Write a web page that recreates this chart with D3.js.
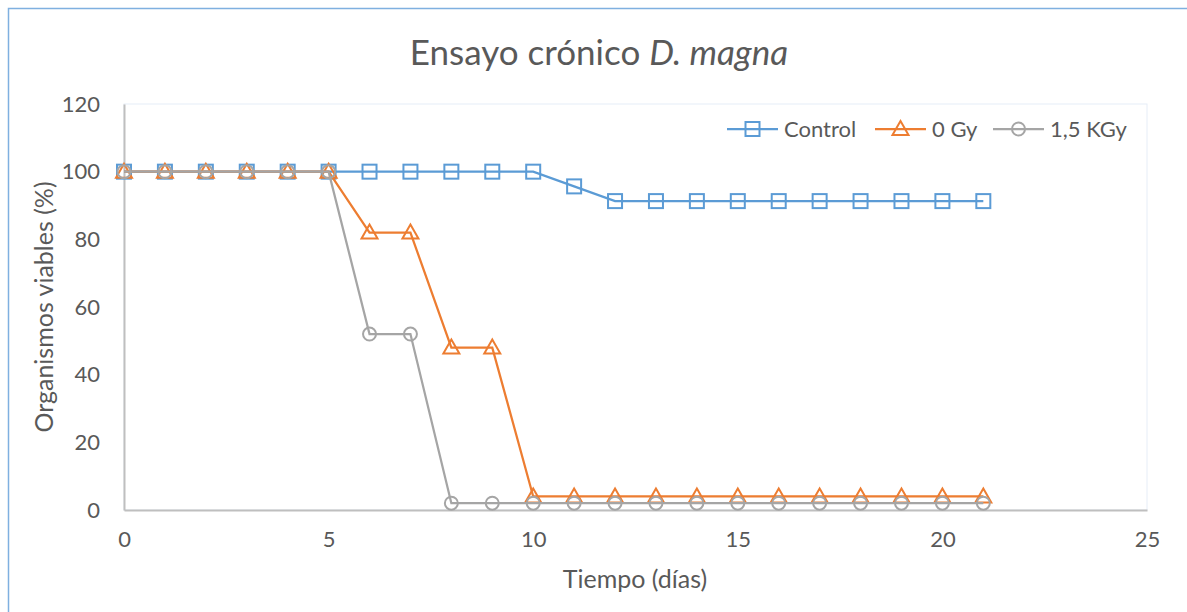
<!DOCTYPE html>
<html>
<head>
<meta charset="utf-8">
<script src="https://cdn.jsdelivr.net/npm/d3@7"></script>
<style>
  body { margin: 0; background: #fff; }
  text { font-family: Lato, "Open Sans", sans-serif; fill: #595959; }
</style>
</head>
<body>
<svg id="chart" width="1187" height="612"></svg>
<script>
const days = d3.range(0, 22);
const control = [100, 100, 100, 100, 100, 100, 100, 100, 100, 100, 100, 95.65,
  91.3, 91.3, 91.3, 91.3, 91.3, 91.3, 91.3, 91.3, 91.3, 91.3];
const gy0 = [100, 100, 100, 100, 100, 100, 82, 82, 48, 48, 4, 4,
  4, 4, 4, 4, 4, 4, 4, 4, 4, 4];
const kgy15 = [100, 100, 100, 100, 100, 100, 52, 52, 2, 2, 2, 2,
  2, 2, 2, 2, 2, 2, 2, 2, 2, 2];
const xTicks = [0, 5, 10, 15, 20, 25];
const yTicks = [0, 20, 40, 60, 80, 100, 120];

const svg = d3.select("#chart"),
  margin = {left: 124, right: 40, top: 104, bottom: 102},
  width = +svg.attr("width"),
  height = +svg.attr("height");

const x = d3.scaleLinear().domain([0, 25]).range([margin.left, width - margin.right]);
const y = d3.scaleLinear().domain([0, 120]).range([height - margin.bottom, margin.top]);

// outer chart border
svg.append("rect")
  .attr("x", 8.5).attr("y", 8.5)
  .attr("width", width + 10).attr("height", height + 10)
  .attr("fill", "none").attr("stroke", "#7fb0e0").attr("stroke-width", 1.5);

// faint plot-area border
svg.append("rect")
  .attr("x", x(0)).attr("y", y(120))
  .attr("width", x(25) - x(0)).attr("height", y(0) - y(120))
  .attr("fill", "none").attr("stroke", "#e6edf7").attr("stroke-width", 1);

// axes
const xAxis = svg.append("g")
  .attr("transform", `translate(0,${y(0)})`)
  .call(d3.axisBottom(x).tickValues(xTicks).tickSize(0).tickPadding(21));
const yAxis = svg.append("g")
  .attr("transform", `translate(${x(0)},0)`)
  .call(d3.axisLeft(y).tickValues(yTicks).tickSize(0).tickPadding(24));
[xAxis, yAxis].forEach(g => {
  g.select(".domain").attr("stroke", "#bfbfbf").attr("stroke-width", 2);
  g.selectAll("text").style("font-size", "22px").attr("fill", "#595959");
});

// title
const title = svg.append("text")
  .attr("x", 599).attr("y", 65)
  .attr("text-anchor", "middle")
  .style("font-size", "35px");
title.append("tspan").text("Ensayo crónico ");
title.append("tspan").style("font-style", "italic").text("D. magna");

svg.append("text")
  .attr("x", 635).attr("y", 588)
  .attr("text-anchor", "middle")
  .style("font-size", "25px")
  .text("Tiempo (días)");

svg.append("text")
  .attr("transform", `translate(53,${(y(0) + y(120)) / 2}) rotate(-90)`)
  .attr("text-anchor", "middle")
  .style("font-size", "25px")
  .text("Organismos viables (%)");

const series = [
  {name: "Control", values: control, color: "#5b9bd5", shape: "square"},
  {name: "0 Gy", values: gy0, color: "#ed7d31", shape: "triangle"},
  {name: "1,5 KGy", values: kgy15, color: "#a5a5a5", shape: "circle"}
];

function drawMarker(g, shape, color) {
  if (shape === "square") {
    g.append("rect").attr("x", -7).attr("y", -7).attr("width", 14).attr("height", 14)
      .attr("fill", "none").attr("stroke", color).attr("stroke-width", 2);
  } else if (shape === "triangle") {
    g.append("path").attr("d", "M0,-8L8,6L-8,6Z")
      .attr("fill", "none").attr("stroke", color).attr("stroke-width", 2);
  } else {
    g.append("circle").attr("r", 6.5)
      .attr("fill", "none").attr("stroke", color).attr("stroke-width", 2);
  }
}

const line = d3.line().x((d, i) => x(days[i])).y(d => y(d));

series.forEach(s => {
  svg.append("path")
    .datum(s.values)
    .attr("d", line)
    .attr("fill", "none")
    .attr("stroke", s.color)
    .attr("stroke-width", 2.25);
  s.values.forEach((v, i) => {
    const g = svg.append("g").attr("transform", `translate(${x(days[i])},${y(v)})`);
    drawMarker(g, s.shape, s.color);
  });
});

// legend
const legendX = [727, 875, 993];
series.forEach((s, i) => {
  const g = svg.append("g").attr("transform", `translate(${legendX[i]},129)`);
  g.append("line").attr("x1", 0).attr("x2", 51)
    .attr("stroke", s.color).attr("stroke-width", 2.25);
  const m = g.append("g").attr("transform", "translate(25.5,0)");
  drawMarker(m, s.shape, s.color);
  g.append("text").attr("x", 57).attr("y", 8)
    .style("font-size", "22px").text(s.name);
});
</script>
</body>
</html>
